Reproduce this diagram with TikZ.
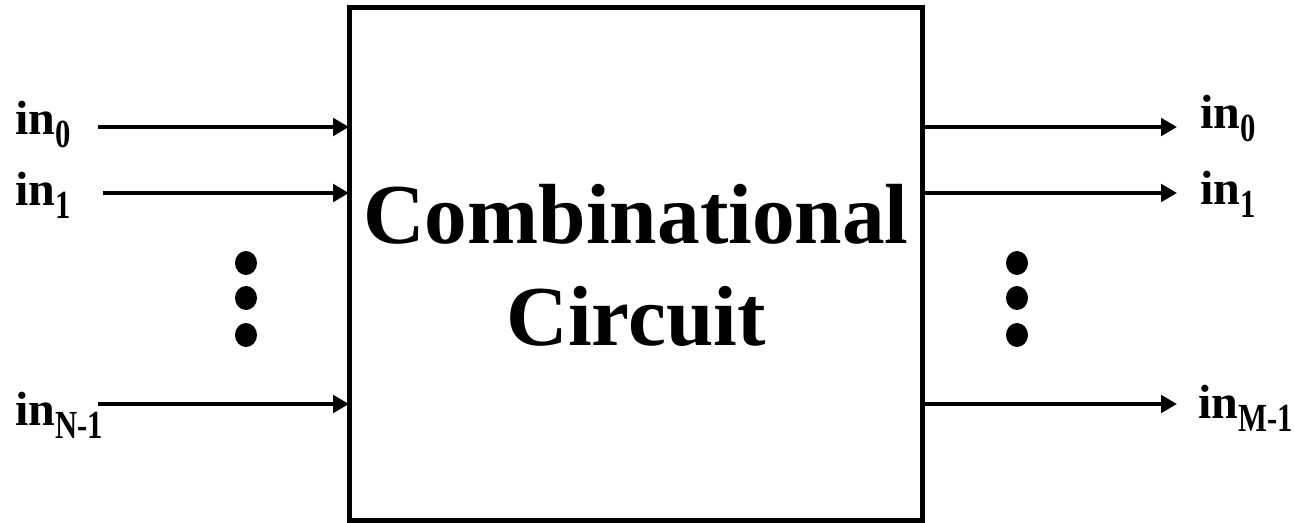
\documentclass[tikz,border=0pt]{standalone}
\usepackage{fontspec}
\setmainfont{Liberation Serif}
\usetikzlibrary{arrows.meta}

\newcommand{\lsub}[1]{\raisebox{-9.75pt}{\scalebox{1}[1.3]{\fontsize{23pt}{23pt}\selectfont #1}}}

\tikzset{
	every picture/.style={line width=0.75pt},
	sig/.style={line width=3.5pt,-{Triangle[length=12pt,width=13pt]}},
	lbl/.style={inner sep=0pt,anchor=base west,font=\fontsize{36pt}{36pt}\selectfont\bfseries},
	blk/.style={draw,line width=3.75pt,outer sep=0pt,inner sep=0pt,minimum width=429.75pt,minimum height=384pt}}

\begin{document}
\begin{tikzpicture}[x=0.75pt,y=0.75pt,yscale=-1,xscale=1]
	\useasboundingbox (0,0) rectangle (1294,523);

	%Shape: Rectangle [id:cc]
	\node [blk] (cc) at (635.5,264) {};
	% Text Node
	\node [align=center,font=\fontsize{64pt}{76.5pt}\selectfont\bfseries] (title) at (636,265) {Combinational\\Circuit};

	% Text Node (inputs)
	\node [lbl] (lin0) at (15,135) {in\lsub{0}};
	\node [lbl] (lin1) at (15,206) {in\lsub{1}};
	\node [lbl] (linN) at (15,425) {in\lsub{N-1}};
	% Text Node (outputs)
	\node [lbl] (rin0) at (1200,129) {in\lsub{0}};
	\node [lbl] (rin1) at (1200,205) {in\lsub{1}};
	\node [lbl] (rinM) at (1198,418) {in\lsub{M-1}};

	% wire ends
	\coordinate (a0) at (98,127);
	\coordinate (a1) at (103,193);
	\coordinate (aN) at (98,404);
	\coordinate (b0) at (1177,127);
	\coordinate (b1) at (1177,193);
	\coordinate (bM) at (1177,404);

	%Straight Lines
	\draw [sig] (a0) -- (a0 -| cc.west);
	\draw [sig] (a1) -- (a1 -| cc.west);
	\draw [sig] (aN) -- (aN -| cc.west);
	\draw [sig] (b0 -| cc.east) -- (b0);
	\draw [sig] (b1 -| cc.east) -- (b1);
	\draw [sig] (bM -| cc.east) -- (bM);

	%Shape: Dots
	\foreach \yy in {263,298,335} {
		\fill (246,\yy) ellipse (8.25pt and 9pt);
		\fill (1017,\yy) ellipse (8.25pt and 9pt);
	}

\end{tikzpicture}
\end{document}
